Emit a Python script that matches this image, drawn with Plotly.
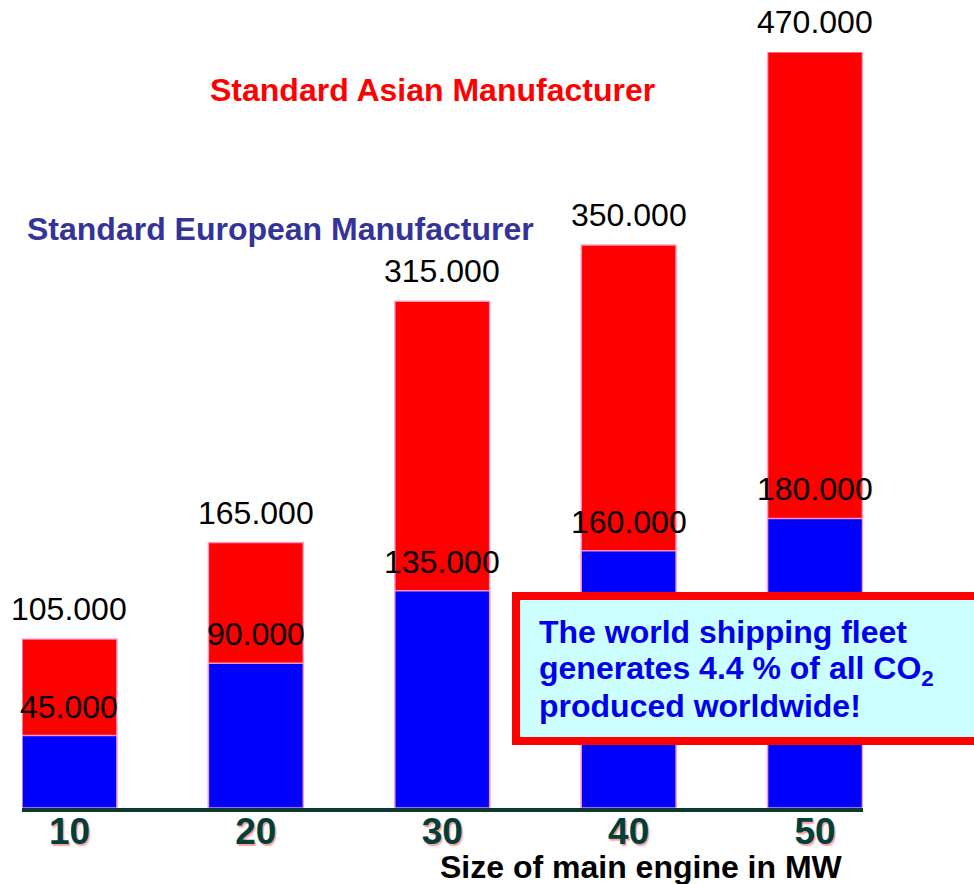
import plotly.graph_objects as go

# Engine size (MW) and the two manufacturer series
engine_mw = [10, 20, 30, 40, 50]
asian_values = [105000, 165000, 315000, 350000, 470000]
european_values = [45000, 90000, 135000, 160000, 180000]
tick_labels = ["10", "20", "30", "40", "50"]

FONT = "Liberation Sans, Arial, Helvetica, sans-serif"


def fmt(v):
    # thousands separated with dots, e.g. 105.000
    return f"{v:,}".replace(",", ".")


fig = go.Figure()

edge = dict(color="rgba(255,160,210,0.9)", width=1.5)

fig.add_trace(go.Bar(
    x=engine_mw, y=asian_values, width=5.09,
    marker=dict(color="#ff0000", line=edge),
    name="Standard Asian Manufacturer", hoverinfo="skip",
))
fig.add_trace(go.Bar(
    x=engine_mw, y=european_values, width=5.09,
    marker=dict(color="#0000ff", line=edge),
    name="Standard European Manufacturer", hoverinfo="skip",
))

annotations = []
for x, v in zip(engine_mw, asian_values):
    annotations.append(dict(
        x=x, y=v, xref="x", yref="y", text=fmt(v), showarrow=False,
        yanchor="middle", yshift=30,
        font=dict(family=FONT, size=32, color="#000000"),
    ))
for x, v in zip(engine_mw, european_values):
    annotations.append(dict(
        x=x, y=v, xref="x", yref="y", text=fmt(v), showarrow=False,
        yanchor="middle", yshift=29,
        font=dict(family=FONT, size=32, color="#000000"),
    ))

# series captions
annotations.append(dict(
    x=0.2211, y=0.9497, xref="paper", yref="paper", xanchor="left", yanchor="middle",
    text="<b>Standard Asian Manufacturer</b>", showarrow=False,
    font=dict(family=FONT, size=32, color="#ff0000"),
))
annotations.append(dict(
    x=0.0036, y=0.7659, xref="paper", yref="paper", xanchor="left", yanchor="middle",
    text="<b>Standard European Manufacturer</b>", showarrow=False,
    font=dict(family=FONT, size=32, color="#333399"),
))

# axis caption
annotations.append(dict(
    x=0.7372, y=-0.0775, xref="paper", yref="paper", xanchor="center", yanchor="middle",
    text="<b>Size of main engine in MW</b>", showarrow=False, borderpad=0,
    font=dict(family=FONT, size=32, color="#000000"),
))

# info box text
box_lines = [
    "The world shipping fleet",
    "generates 4.4 % of all CO<sub>2</sub>",
    "produced worldwide!",
]
box_line_y = [0.2327, 0.1825, 0.1349]
for line, yy in zip(box_lines, box_line_y):
    annotations.append(dict(
        x=0.6118, y=yy, xref="paper", yref="paper", xanchor="left", yanchor="middle",
        text=f"<b>{line}</b>", showarrow=False,
        font=dict(family=FONT, size=32, color="#0000ee"),
    ))

fig.update_layout(
    width=974, height=884,
    margin=dict(l=22, r=111, t=52, b=76),
    paper_bgcolor="white", plot_bgcolor="white",
    barmode="overlay", showlegend=False,
    annotations=annotations,
    shapes=[dict(
        type="rect", xref="paper", yref="paper",
        x0=0.5874, x1=1.151, y0=0.0886, y1=0.2804,
        line=dict(color="#ff0000", width=8), fillcolor="#ccffff", layer="above",
    )],
    xaxis=dict(
        range=[7.453, 52.574], tickvals=engine_mw, ticktext=tick_labels,
        showgrid=False, zeroline=False, showline=True,
        linecolor="#0b3a32", linewidth=4, ticks="", ticklabelstandoff=-12,
        tickfont=dict(family=FONT, size=37, color="#00403a", weight="bold",
                      shadow="1.5px 1.5px 1px #ff9f9f"),
        fixedrange=True,
    ),
    yaxis=dict(
        range=[0, 470000], visible=False, showgrid=False, zeroline=False,
        fixedrange=True,
    ),
)

fig.write_html("out.html")
